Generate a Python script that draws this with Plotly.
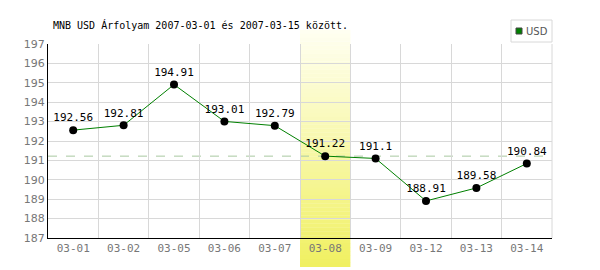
import plotly.graph_objects as go

dates = ["03-01", "03-02", "03-05", "03-06", "03-07", "03-08", "03-09", "03-12", "03-13", "03-14"]
usd = [192.56, 192.81, 194.91, 193.01, 192.79, 191.22, 191.1, 188.91, 189.58, 190.84]
labels = ["192.56", "192.81", "194.91", "193.01", "192.79", "191.22", "191.1", "188.91", "189.58", "190.84"]
highlight_idx = 5
ref_value = 191.22
series_name = "USD"

xs = list(range(len(dates)))

fig = go.Figure()

# gradient highlight band
n = 60
top_y, bot_y = 1 + 14 / 194, -29 / 194
c_top = (255, 255, 242)
c_bot = (240, 240, 96)
for i in range(n):
    t = (i + 0.5) / n
    r = round(c_top[0] + (c_bot[0] - c_top[0]) * t)
    g = round(c_top[1] + (c_bot[1] - c_top[1]) * t)
    b = round(c_top[2] + (c_bot[2] - c_top[2]) * t)
    y0 = top_y + (bot_y - top_y) * i / n
    y1 = top_y + (bot_y - top_y) * (i + 1) / n
    fig.add_shape(type="rect", xref="x", yref="paper",
                  x0=highlight_idx - 0.5, x1=highlight_idx + 0.5, y0=y1, y1=y0 + 0.001,
                  fillcolor=f"rgb({r},{g},{b})", line_width=0, layer="below")

fig.add_shape(type="line", xref="paper", yref="y", x0=0, x1=1, y0=ref_value, y1=ref_value,
              line=dict(color="#a8c8a0", width=1, dash="dash"), layer="below")

fig.add_trace(go.Scatter(
    x=xs, y=usd, mode="lines+markers+text", text=labels, textposition="top center",
    textfont=dict(family="DejaVu Sans Mono", size=11, color="#000"),
    line=dict(color="#008000", width=1),
    marker=dict(color="#000", size=8),
    showlegend=False, hoverinfo="skip", cliponaxis=False))

# manual legend box
def px_x(p):
    return (p - 48) / 504

def px_y(p):
    return (238 - p) / 194

fig.add_shape(type="rect", xref="paper", yref="paper",
              x0=px_x(511), x1=px_x(552), y0=px_y(42), y1=px_y(20),
              line=dict(color="#d8d8d8", width=1), fillcolor="white")
fig.add_shape(type="rect", xref="paper", yref="paper",
              x0=px_x(516), x1=px_x(522), y0=px_y(34), y1=px_y(28),
              line=dict(color="#444", width=1), fillcolor="#008000")
fig.add_annotation(xref="paper", yref="paper", x=px_x(524), y=px_y(31),
                   xanchor="left", yanchor="middle", text=series_name, showarrow=False,
                   font=dict(family="DejaVu Sans", size=10, color="#555"))

fig.update_layout(
    width=600, height=270,
    margin=dict(l=48, r=48, t=44, b=32),
    paper_bgcolor="white", plot_bgcolor="rgba(0,0,0,0)",
    title=dict(text="MNB USD Árfolyam 2007-03-01 és 2007-03-15 között.",
               xref="container", yref="container", x=53 / 600, xanchor="left",
               y=1 - 25 / 270, yanchor="middle",
               font=dict(family="DejaVu Sans Mono", size=10, color="#000")),
    showlegend=False,
    font=dict(family="DejaVu Sans", size=11, color="#666"),
)

fig.update_xaxes(
    range=[-0.5, len(dates) - 0.5], tickmode="array", tickvals=xs, ticktext=dates,
    showgrid=False, zeroline=False, showline=True, linecolor="#000", linewidth=1,
    ticks="", tickfont=dict(family="DejaVu Sans Mono", size=11, color="#777"),
    minor=dict(tickmode="linear", tick0=0.5, dtick=1, showgrid=True,
               gridcolor="#d8d8d8", gridwidth=1, ticks=""),
    mirror=False)
fig.add_shape(type="line", xref="paper", yref="paper", x0=1, x1=1, y0=0, y1=1,
              line=dict(color="#d8d8d8", width=1), layer="below")

fig.update_yaxes(
    range=[187, 197], dtick=1, showgrid=True, gridcolor="#d8d8d8", gridwidth=1,
    zeroline=False, showline=True, linecolor="#000", linewidth=1, ticks="",
    tickfont=dict(family="DejaVu Sans", size=11, color="#777"))

fig.write_html("out.html")
